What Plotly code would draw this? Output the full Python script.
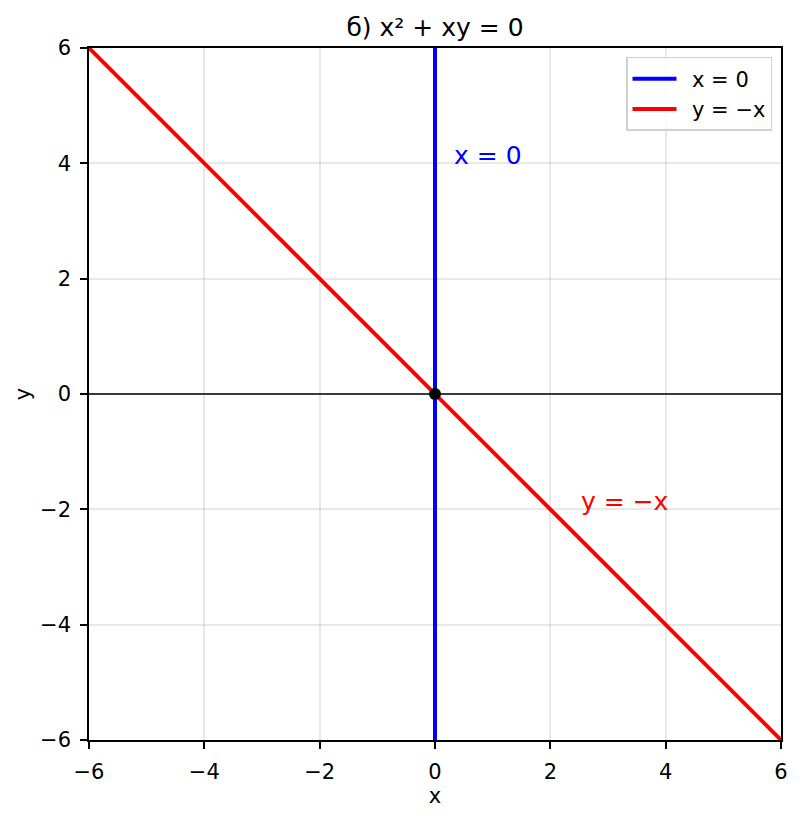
import plotly.graph_objects as go

ticks = [-6, -4, -2, 0, 2, 4, 6]
tick_labels = ["\u22126", "\u22124", "\u22122", "0", "2", "4", "6"]

blue_x = [0, 0]
blue_y = [-6, 6]
red_x = [-6, 6]
red_y = [6, -6]
point_x = [0]
point_y = [0]

font = "DejaVu Sans"
fig = go.Figure()
fig.add_trace(go.Scatter(x=[-6, 6], y=[0, 0], mode="lines", line=dict(color="black", width=1.6),
                         showlegend=False, hoverinfo="skip"))
fig.add_trace(go.Scatter(x=blue_x, y=blue_y, mode="lines", name="\u2002x = 0",
                         line=dict(color="blue", width=4)))
fig.add_trace(go.Scatter(x=red_x, y=red_y, mode="lines", name="\u2002y = \u2212x",
                         line=dict(color="red", width=4)))
fig.add_trace(go.Scatter(x=point_x, y=point_y, mode="markers", showlegend=False,
                         marker=dict(color="black", size=12)))

fig.add_annotation(x=0.3, y=4.13, text="x = 0", showarrow=False, xanchor="left", yanchor="middle",
                   font=dict(color="blue", size=25, family=font))
fig.add_annotation(x=2.5, y=-1.87, text="y = \u2212x", showarrow=False, xanchor="left", yanchor="middle",
                   font=dict(color="red", size=25, family=font))

axis_common = dict(range=[-6, 6], tickvals=ticks, ticktext=tick_labels, showgrid=True,
                   gridcolor="rgba(0,0,0,0.09)", gridwidth=1.5, zeroline=False, showline=True,
                   linecolor="black", linewidth=1.6, mirror=True, ticks="outside", ticklen=7,
                   tickwidth=1.6, tickcolor="black", ticklabelstandoff=5,
                   tickfont=dict(size=21, color="black", family=font))
fig.update_xaxes(**axis_common, title=dict(text="x", font=dict(size=21, color="black", family=font), standoff=2))
fig.update_yaxes(**axis_common, title=dict(text="y", font=dict(size=21, color="black", family=font), standoff=4))

fig.update_layout(
    width=803, height=818,
    margin=dict(l=81, r=30, t=40, b=86),
    paper_bgcolor="white", plot_bgcolor="white",
    title=dict(text="\u0431) x\u00b2 + xy = 0", x=(81 + 773) / 2 / 803, xanchor="center", y=1 - 19 / 818,
               yanchor="middle", font=dict(size=25, color="black", family=font)),
    legend=dict(x=0.987, xanchor="right", y=0.987, yanchor="top", bordercolor="#d0d0d0", borderwidth=1.5,
                bgcolor="rgba(255,255,255,0.8)", font=dict(size=21, color="black", family=font),
                itemwidth=44),
    font=dict(family=font),
)

fig.write_html("out.html")
